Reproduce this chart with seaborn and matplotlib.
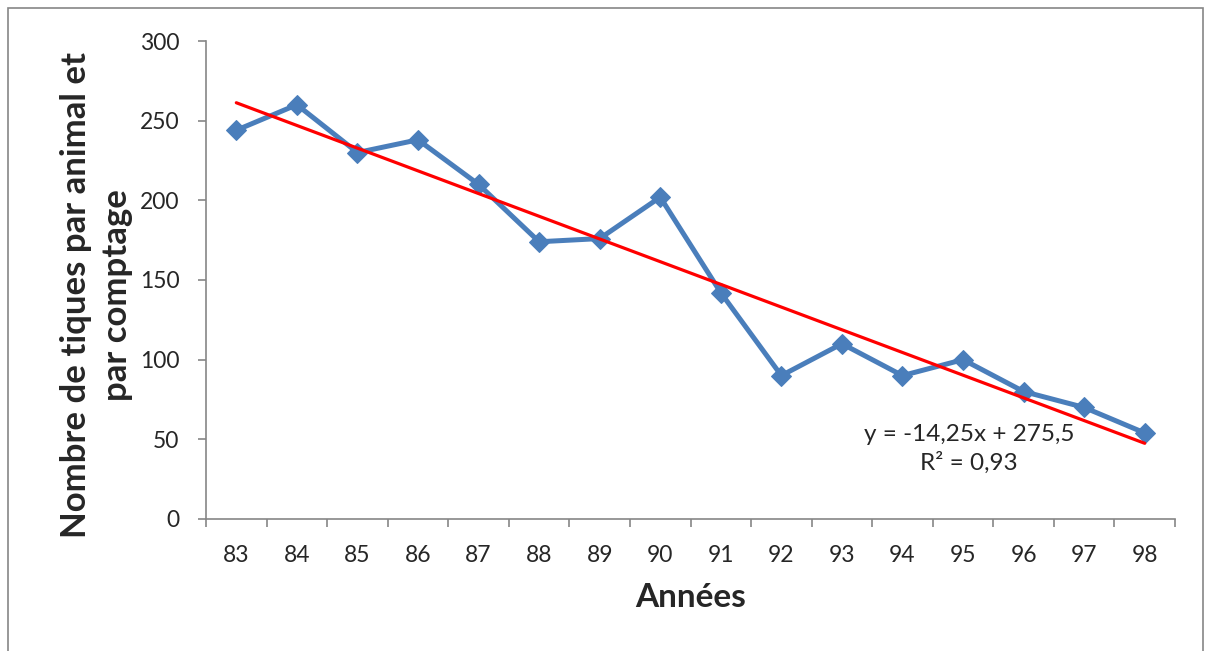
import numpy as np
import pandas as pd
import seaborn as sns
import matplotlib.pyplot as plt
from matplotlib.patches import Rectangle

# Années (catégories) et nombre de tiques
annees = ["83", "84", "85", "86", "87", "88", "89", "90",
          "91", "92", "93", "94", "95", "96", "97", "98"]
tiques = [244, 260, 230, 238, 210, 174, 176, 202,
          142, 90, 110, 90, 100, 80, 70, 54]

# Tendance linéaire affichée dans le graphique
pente = -14.25
ordonnee = 275.5
r2 = 0.93

sns.set_theme(style="white")
plt.rcParams['font.family'] = ['Lato', 'DejaVu Sans']

df = pd.DataFrame({"idx": np.arange(1, len(annees) + 1), "tiques": tiques})
df["tendance"] = pente * df["idx"] + ordonnee

fig = plt.figure(figsize=(12.07, 6.51), dpi=100)
ax = fig.add_axes([0.1707, 0.2028, 0.8028, 0.7342])

sns.lineplot(data=df, x="idx", y="tiques", ax=ax, color="#4A7EBB",
             linewidth=3.6, marker="D", markersize=10, markeredgecolor="#4A7EBB")
sns.lineplot(data=df, x="idx", y="tendance", ax=ax, color="#FF0000", linewidth=2.3)

ax.set_xlim(0.5, len(annees) + 0.5)
ax.set_ylim(0, 300)
ax.set_yticks(range(0, 301, 50))
ax.set_xticks(df["idx"])
ax.set_xticklabels(annees)
ax.set_xticks(np.arange(0.5, len(annees) + 1, 1), minor=True)
ax.tick_params(axis="x", which="major", length=0, labelsize=16.5, pad=19)
ax.tick_params(axis="x", which="minor", length=6, width=1.2, color="#868686", direction="out")
ax.tick_params(axis="y", length=6, width=1.2, color="#868686", direction="out",
               labelsize=16.5, pad=13)
ax.xaxis.set_ticks_position("bottom")
ax.yaxis.set_ticks_position("left")

for s in ["top", "right"]:
    ax.spines[s].set_visible(False)
for s in ["left", "bottom"]:
    ax.spines[s].set_color("#868686")
    ax.spines[s].set_linewidth(1.2)

ax.set_xlabel("Années", fontsize=24, fontweight="bold", labelpad=12)
ax.set_ylabel("Nombre de tiques par animal et\npar comptage", fontsize=25,
              fontweight="bold", linespacing=1.35)
ax.yaxis.set_label_coords(-0.075, 0.469)

eq = f"y = {pente:.2f}x + {ordonnee:.1f}".replace(".", ",")
eq += "\n" + f"R² = {r2:.2f}".replace(".", ",")
ax.text(13.1, 44, eq, ha="center", va="center", fontsize=17.5, linespacing=1.4)

fig.patches.append(Rectangle((8 / 1207, -0.05), 1195 / 1207, 1.05 - 8 / 651,
                             transform=fig.transFigure, fill=False,
                             edgecolor="#868686", linewidth=1.2))

plt.savefig("out.png", dpi=100)
